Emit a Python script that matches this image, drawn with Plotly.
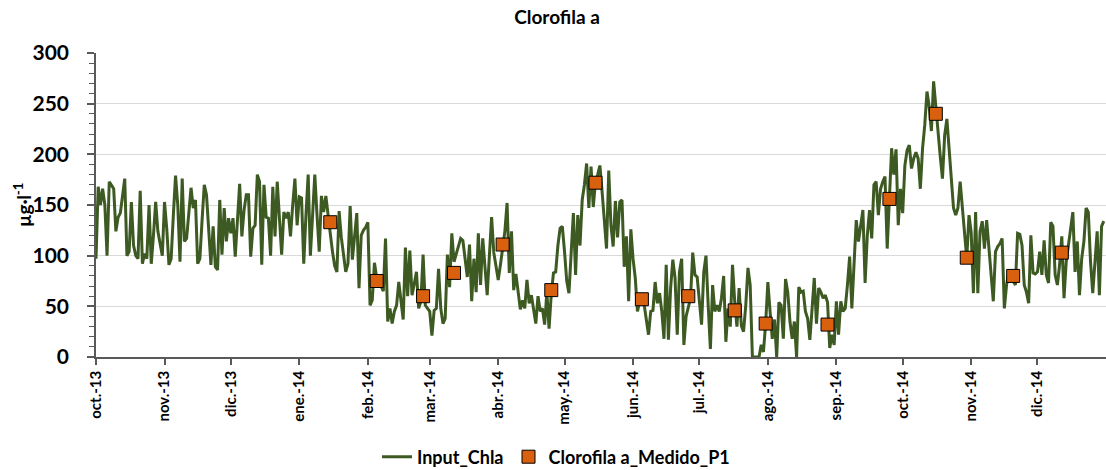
import pandas as pd
import plotly.graph_objects as go

FONT = "Lato, Carlito, Calibri, 'Open Sans', sans-serif"

start_date = "2013-10-01"

# Daily modelled chlorophyll a (µg/l), one list per month
oct13 = [97, 168, 150, 166, 150, 100, 173, 169, 166, 124, 138, 142, 160, 176, 100, 104, 153, 110, 100, 97,
         164, 92, 102, 97, 150, 92, 120, 153, 124, 110, 100]
nov13 = [153, 127, 91, 97, 140, 179, 150, 94, 176, 114, 117, 145, 167, 147, 155, 92, 97, 135, 170, 160,
         125, 91, 129, 89, 86, 155, 101, 147, 114, 137]
dic13 = [122, 137, 99, 135, 171, 119, 145, 160, 160, 99, 127, 130, 180, 173, 91, 170, 138, 137, 100, 168,
         119, 173, 140, 101, 143, 137, 143, 119, 150, 176, 130]
ene14 = [158, 157, 92, 140, 180, 100, 140, 180, 140, 104, 159, 143, 159, 137, 122, 104, 90, 84, 144, 118,
         98, 84, 92, 149, 96, 118, 142, 68, 120, 125, 128]
feb14 = [133, 51, 56, 93, 78, 75, 70, 65, 117, 35, 48, 33, 45, 51, 74, 55, 37, 108, 60, 105,
         61, 72, 84, 48, 55, 101, 51, 48]
mar14 = [45, 21, 46, 48, 87, 48, 33, 38, 101, 69, 122, 94, 101, 110, 117, 115, 97, 79, 111, 55,
         97, 64, 122, 71, 117, 91, 61, 100, 138, 103, 91]
abr14 = [76, 91, 110, 124, 152, 83, 124, 66, 82, 64, 47, 56, 48, 76, 53, 61, 48, 33, 60, 45,
         48, 32, 64, 28, 62, 83, 84, 110, 127, 129]
may14 = [104, 75, 63, 110, 142, 81, 140, 110, 155, 170, 191, 147, 188, 148, 173, 180, 189, 163, 130, 107,
         184, 130, 109, 154, 118, 153, 155, 89, 119, 55, 126]
jun14 = [97, 78, 45, 55, 60, 52, 36, 22, 45, 46, 74, 53, 63, 45, 18, 91, 17, 68, 96, 78,
         22, 84, 97, 12, 40, 50, 58, 103, 81, 79]
jul14 = [51, 32, 84, 100, 51, 8, 71, 45, 51, 45, 58, 80, 15, 48, 30, 91, 55, 30, 68, 31,
         25, 51, 88, 71, 0, 0, 0, 0, 12, 5, 33]
ago14 = [74, 45, 18, 37, 0, 54, 51, 18, 77, 64, 35, 18, 35, 0, 69, 64, 65, 45, 38, 17,
         51, 78, 33, 68, 64, 58, 61, 54, 9, 22, 12]
sep14 = [55, 22, 55, 45, 48, 71, 99, 48, 97, 135, 114, 128, 145, 73, 120, 145, 117, 170, 173, 140,
         166, 173, 178, 107, 157, 206, 180, 205, 130, 166]
oct14 = [142, 189, 204, 209, 186, 196, 202, 196, 166, 206, 229, 262, 247, 223, 272, 245, 226, 198, 176, 219,
         235, 206, 176, 147, 140, 147, 173, 150, 127, 97, 140]
nov14 = [123, 63, 143, 63, 124, 134, 107, 135, 110, 84, 55, 104, 109, 112, 117, 48, 71, 84, 78, 75,
         71, 122, 121, 110, 71, 64, 53, 120, 83, 82]
dic14 = [84, 104, 81, 115, 81, 73, 133, 129, 81, 71, 91, 119, 58, 94, 110, 129, 143, 84, 114, 61,
         97, 114, 147, 143, 94, 63, 91, 124, 61, 129, 134]

input_chla = (oct13 + nov13 + dic13 + ene14 + feb14 + mar14 + abr14 + may14 + jun14
              + jul14 + ago14 + sep14 + oct14 + nov14 + dic14)

# Measured samples at P1
medido_dates = ["2014-01-15", "2014-02-05", "2014-02-26", "2014-03-12", "2014-04-03", "2014-04-25",
                "2014-05-15", "2014-06-05", "2014-06-26", "2014-07-17", "2014-07-31", "2014-08-28",
                "2014-09-25", "2014-10-16", "2014-10-30", "2014-11-20", "2014-12-12"]
medido_values = [133, 75, 60, 83, 111, 66, 172, 57, 60, 46, 33, 32, 156, 240, 98, 80, 103]

tick_labels = ["oct.-13", "nov.-13", "dic.-13", "ene.-14", "feb.-14", "mar.-14", "abr.-14", "may.-14",
               "jun.-14", "jul.-14", "ago.-14", "sep.-14", "oct.-14", "nov.-14", "dic.-14"]

dates = pd.date_range(start_date, periods=len(input_chla), freq="D")
tick_vals = pd.date_range(start_date, periods=len(tick_labels), freq="MS")

AX = "#595959"

fig = go.Figure()
fig.add_trace(go.Scatter(
    x=dates, y=input_chla, mode="lines", name="Input_Chla",
    line=dict(color="#3d5a23", width=3),
))
fig.add_trace(go.Scatter(
    x=pd.to_datetime(medido_dates), y=medido_values, mode="markers", name="Clorofila a_Medido_P1",
    marker=dict(symbol="square", size=13, color="#d9600f", line=dict(color="black", width=1)),
))

fig.update_layout(
    width=1106, height=470,
    margin=dict(l=96, r=0, t=53, b=113),
    paper_bgcolor="white", plot_bgcolor="white",
    font=dict(family=FONT, color="black"),
    title=dict(text="<b>Clorofila a</b>", x=557 / 1106, xanchor="center", y=1 - 17 / 470, yanchor="middle",
               font=dict(family=FONT, size=19, color="black")),
    showlegend=True,
    legend=dict(orientation="h", xref="container", yref="container",
                x=556 / 1106, xanchor="center", y=1 - 457 / 470, yanchor="middle",
                font=dict(family=FONT, size=18, color="black", weight="bold"),
                itemwidth=30, bgcolor="rgba(0,0,0,0)"),
    xaxis=dict(
        type="date", range=["2013-10-01", "2015-01-01"],
        tickvals=tick_vals, ticktext=tick_labels, tickangle=-90,
        tickfont=dict(family=FONT, size=15, color="black", weight="bold"),
        showline=True, linecolor=AX, linewidth=1.5,
        ticks="outside", ticklen=6, tickcolor=AX, tickwidth=1.5,
        showgrid=False, zeroline=False, automargin=False,
    ),
    yaxis=dict(
        range=[0, 300], dtick=50, tick0=0,
        tickfont=dict(family=FONT, size=21, color="black", weight="bold"),
        showline=True, linecolor=AX, linewidth=1.5,
        ticks="outside", ticklen=7, tickcolor=AX, tickwidth=1.5,
        ticklabelstandoff=14, automargin=False,
        showgrid=True, gridcolor="#d9d9d9", gridwidth=1, zeroline=False,
        minor=dict(dtick=10, tick0=0, ticks="outside", ticklen=5, tickcolor=AX, tickwidth=1, showgrid=False),
    ),
    annotations=[dict(
        text="<b>µg·l<sup>-1</sup></b>", xref="paper", yref="paper",
        x=(22 - 96) / 1010, y=0.5, xanchor="center", yanchor="middle",
        textangle=-90, showarrow=False, font=dict(family=FONT, size=19, color="black"),
    )],
)

fig.write_html("out.html", config={"displayModeBar": False},
               post_script="document.body.style.margin='0';document.body.style.padding='0';")
